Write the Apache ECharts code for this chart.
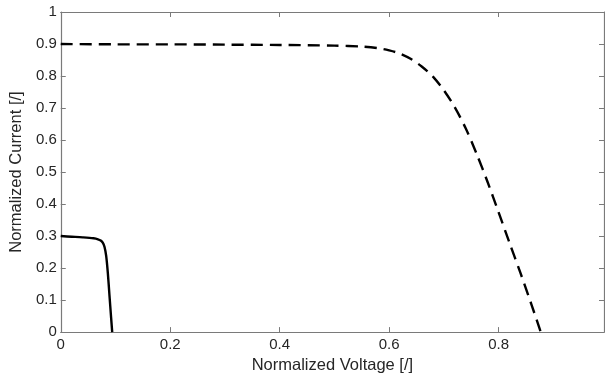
<!DOCTYPE html>
<html><head><meta charset="utf-8">
<script src="https://cdn.jsdelivr.net/npm/echarts@6/dist/echarts.min.js"></script>
<style>html,body{margin:0;padding:0;background:#fff}#c{width:605px;height:379px}</style>
</head><body><div id="c"></div>
<script>
const xTicks = [0, 0.2, 0.4, 0.6, 0.8];
const yTicks = [0, 0.1, 0.2, 0.3, 0.4, 0.5, 0.6, 0.7, 0.8, 0.9, 1];
const solidV = [0, 0.02, 0.04, 0.06, 0.068, 0.073, 0.077, 0.080, 0.083, 0.086, 0.089, 0.092, 0.094];
const solidI = [0.300, 0.298, 0.296, 0.293, 0.290, 0.286, 0.279, 0.266, 0.238, 0.185, 0.115, 0.045, 0.0];
const dashV = [0, 0.1, 0.2, 0.3, 0.4, 0.5, 0.55, 0.58, 0.60, 0.62, 0.64, 0.66, 0.68, 0.70, 0.72, 0.74, 0.76, 0.78, 0.80, 0.82, 0.84, 0.86, 0.877];
const dashI = [0.900, 0.899, 0.899, 0.898, 0.897, 0.895, 0.892, 0.887, 0.880, 0.870, 0.853, 0.829, 0.798, 0.755, 0.702, 0.636, 0.556, 0.468, 0.374, 0.278, 0.184, 0.086, 0.0];
const xMax = 0.9925;

const chart = echarts.init(document.getElementById('c'), null, {renderer: 'canvas'});
const axisCol = '#7a7a7a';
const txt = '#262626';
const font = 'Liberation Sans, Arial, sans-serif';
const fmt2 = v => xTicks.some(t => Math.abs(t - v) < 1e-9) ? (v === 0 ? '0' : String(+v.toFixed(1))) : '';
const fmtY = v => yTicks.some(t => Math.abs(t - v) < 1e-9) ? (v === 0 ? '0' : (v === 1 ? '1' : String(+v.toFixed(1)))) : '';
const baseX = {
  type: 'value', min: 0, max: xMax, interval: 0.2,
  axisLine: {show: true, onZero: false, lineStyle: {color: axisCol, width: 1.2}},
  axisTick: {show: true, inside: true, length: 5, lineStyle: {color: axisCol}},
  splitLine: {show: false}
};
const baseY = {
  type: 'value', min: 0, max: 1, interval: 0.1,
  axisLine: {show: true, onZero: false, lineStyle: {color: axisCol, width: 1.2}},
  axisTick: {show: true, inside: true, length: 5, lineStyle: {color: axisCol}},
  splitLine: {show: false}
};
chart.setOption({
  animation: false,
  backgroundColor: '#fff',
  grid: {left: 54, right: 1, top: 12, bottom: 46, containLabel: false},
  xAxis: [
    Object.assign({}, baseX, {
      position: 'bottom',
      name: 'Normalized Voltage [/]', nameLocation: 'middle', nameGap: 21,
      nameTextStyle: {color: txt, fontSize: 16.5, fontFamily: font},
      axisLabel: {color: txt, fontSize: 15, fontFamily: font, margin: 5, formatter: fmt2, showMaxLabel: false}
    }),
    Object.assign({}, baseX, {position: 'top', axisLabel: {show: false}})
  ],
  yAxis: [
    Object.assign({}, baseY, {
      position: 'left',
      name: 'Normalized Current [/]', nameLocation: 'middle', nameGap: 27,
      nameTextStyle: {color: txt, fontSize: 16.5, fontFamily: font},
      axisLabel: {color: txt, fontSize: 15, fontFamily: font, margin: 4, formatter: fmtY}
    }),
    Object.assign({}, baseY, {position: 'right', axisLabel: {show: false}})
  ],
  series: [
    {
      type: 'line', xAxisIndex: 0, yAxisIndex: 0, showSymbol: false, smooth: 0.3,
      data: solidV.map((v, i) => [v, solidI[i]]),
      lineStyle: {color: '#000', width: 2.4, type: 'solid'}
    },
    {
      type: 'line', xAxisIndex: 0, yAxisIndex: 0, showSymbol: false, smooth: 0.3,
      data: dashV.map((v, i) => [v, dashI[i]]),
      lineStyle: {color: '#000', width: 2.4, type: [12, 7]}
    }
  ]
});
</script></body></html>
